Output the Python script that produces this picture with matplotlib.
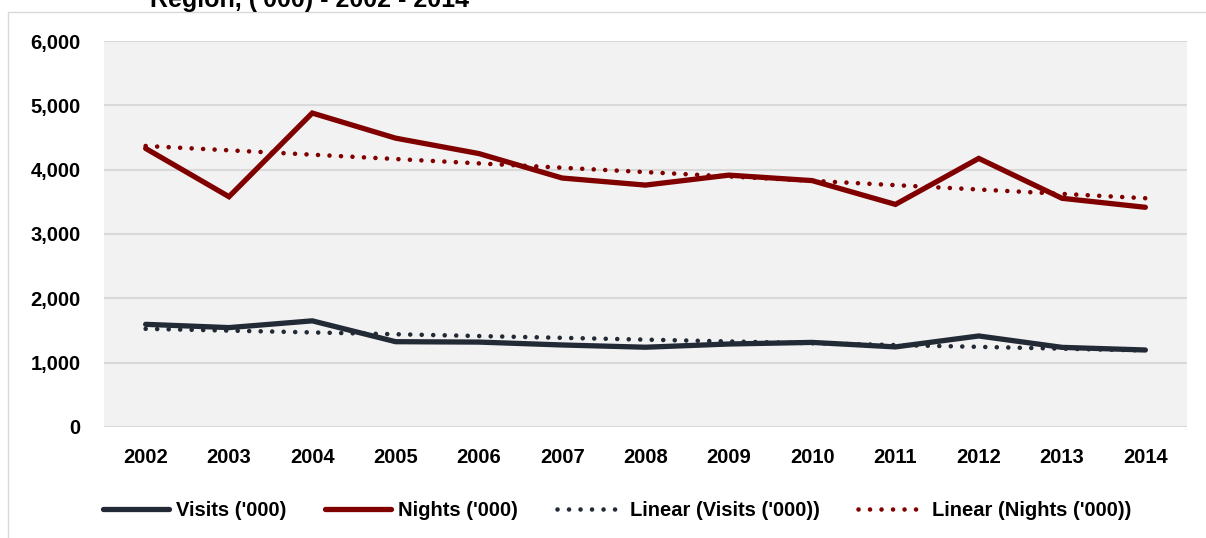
import numpy as np
import matplotlib.pyplot as plt
from matplotlib.patches import Rectangle
from matplotlib.lines import Line2D

plt.rcParams['font.family'] = ['Liberation Sans', 'DejaVu Sans']
plt.rcParams['font.weight'] = 'bold'

years = [2002, 2003, 2004, 2005, 2006, 2007, 2008, 2009, 2010, 2011, 2012, 2013, 2014]
visits = [1596, 1545, 1650, 1326, 1320, 1275, 1240, 1290, 1315, 1245, 1415, 1238, 1197]
nights = [4330, 3580, 4880, 4490, 4250, 3870, 3760, 3915, 3830, 3460, 4175, 3555, 3415]
yticks = [0, 1000, 2000, 3000, 4000, 5000, 6000]

navy = '#222a35'
red = '#800000'

x = np.arange(len(years))
fit_v = np.polyval(np.polyfit(x, visits, 1), x)
fit_n = np.polyval(np.polyfit(x, nights, 1), x)

fig = plt.figure(figsize=(12.06, 5.38), dpi=100)
ax = fig.add_axes([104/1206, 1-427/538, 1083/1206, 386/538])
ax.set_facecolor('#f2f2f2')

# outer chart border
fig.patches.append(Rectangle((8/1206, -0.01), 1.2, 1-12/538+0.01, transform=fig.transFigure,
                             fill=False, edgecolor='#d9d9d9', linewidth=1))

dots = (0, (0.01, 2.5))
ax.plot(x, visits, color=navy, lw=3.8, solid_capstyle='round', solid_joinstyle='miter', zorder=4)
ax.plot(x, nights, color=red, lw=3.8, solid_capstyle='round', solid_joinstyle='miter', zorder=4)
ax.plot(x, fit_v, color=navy, lw=3.3, linestyle=dots, dash_capstyle='round', zorder=5)
ax.plot(x, fit_n, color=red, lw=3.3, linestyle=dots, dash_capstyle='round', zorder=5)

ax.set_xlim(-0.5, len(years)-0.5)
ax.set_ylim(0, 6000)
ax.set_yticks(yticks)
ax.set_yticklabels([f'{v:,}' for v in yticks], fontsize=14.5, fontweight='bold')
ax.set_xticks(x)
ax.set_xticklabels([str(y) for y in years], fontsize=14.5, fontweight='bold')
ax.tick_params(length=0)
ax.tick_params(axis='y', pad=17)
ax.tick_params(axis='x', pad=15)
ax.grid(axis='y', color='#d9d9d9', linewidth=1.5)
ax.set_axisbelow(True)
for s in ax.spines.values():
    s.set_visible(False)

fig.text(150/1206, 1.0, "Region, ('000) - 2002 - 2014", fontsize=18, fontweight='bold',
         va='center', ha='left')

handles = [
    Line2D([], [], color=navy, lw=3.8, solid_capstyle='round'),
    Line2D([], [], color=red, lw=3.8, solid_capstyle='round'),
    Line2D([], [], color=navy, lw=3.3, linestyle=dots, dash_capstyle='round'),
    Line2D([], [], color=red, lw=3.3, linestyle=dots, dash_capstyle='round'),
]
labels = ["Visits ('000)", "Nights ('000)", "Linear (Visits ('000))", "Linear (Nights ('000))"]
fig.legend(handles, labels, loc='center', bbox_to_anchor=(617/1206, 1-511/538), ncol=4,
           frameon=False, handlelength=3.3, handletextpad=0.35, columnspacing=1.9,
           prop={'weight': 'bold', 'size': 14.5})

plt.savefig('out.png', dpi=100)
